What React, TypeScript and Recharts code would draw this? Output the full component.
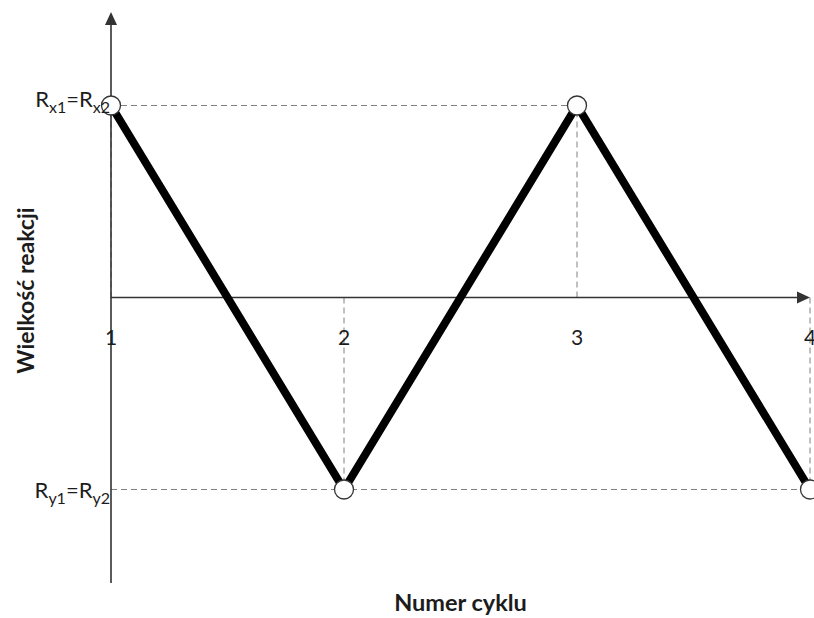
import { LineChart, Line, XAxis, YAxis, ReferenceLine, Label } from "recharts";

// cycle number on x, reaction size on y
const cycles = [1, 2, 3, 4];
const reaction = [1, -1, 1, -1];
const xTicks = [1, 2, 3, 4];
const yTicks = [-1, 1];
const yTickNames: Record<number, [string, string, string]> = {
  1: ["R", "x1", "x2"],
  "-1": ["R", "y1", "y2"],
};
const xTitle = "Numer cyklu";
const yTitle = "Wielkość reakcji";
const yLimit = 1.487;

const data = cycles.map((c, i) => ({ cycle: c, value: reaction[i] }));

// dashed guides: from the x axis to every point, and from the y axis to the last point on each level
const verticalGuides = data.map((d) => [
  { x: d.cycle, y: 0 },
  { x: d.cycle, y: d.value },
]);
const horizontalGuides = Array.from(new Set(reaction)).map((level) => {
  const last = Math.max(...data.filter((d) => d.value === level).map((d) => d.cycle));
  return [
    { x: cycles[0], y: level },
    { x: last, y: level },
  ];
});

const FONT = "Lato, 'Open Sans', sans-serif";
const TEXT = "#1c1c1c";
const AXIS = "#333";
const GUIDE = "#808080";

function XTick(props: any) {
  const { x, y, payload } = props;
  return (
    <text x={x} y={y - 246} textAnchor="middle" fontFamily={FONT} fontSize={21} fill={TEXT}>
      {payload.value}
    </text>
  );
}

function YTick(props: any) {
  const { x, y, payload } = props;
  const [base, sub1, sub2] = yTickNames[payload.value];
  const drop = payload.value > 0 ? 1 : 9;
  return (
    <text x={x - 1} y={y + drop} textAnchor="end" fontFamily={FONT} fontSize={22} fill={TEXT}>
      {base}
      <tspan fontSize={16} dy={6}>{sub1}</tspan>
      <tspan fontSize={22} dy={-6}>={base}</tspan>
      <tspan fontSize={16} dy={6}>{sub2}</tspan>
    </text>
  );
}

function HorizontalAxis(props: any) {
  const { x1, x2, y1 } = props;
  const right = Math.max(x1, x2);
  const left = Math.min(x1, x2);
  return (
    <g>
      <line x1={left} y1={y1} x2={right - 6} y2={y1} stroke={AXIS} strokeWidth={1.6} />
      <polygon points={`${right},${y1} ${right - 13},${y1 - 6} ${right - 13},${y1 + 6}`} fill={AXIS} />
    </g>
  );
}

function VerticalAxis(props: any) {
  const { x1, y1, y2 } = props;
  const top = Math.min(y1, y2);
  const bottom = Math.max(y1, y2);
  return (
    <g>
      <line x1={x1} y1={top + 6} x2={x1} y2={bottom} stroke={AXIS} strokeWidth={1.6} />
      <polygon points={`${x1},${top} ${x1 - 6},${top + 13} ${x1 + 6},${top + 13}`} fill={AXIS} />
    </g>
  );
}

function OpenDot(props: any) {
  const { cx, cy, index } = props;
  return <circle key={`dot-${index}`} cx={cx} cy={cy} r={9.5} fill="#fff" stroke="#333" strokeWidth={1.3} />;
}

function YTitle(props: any) {
  const { viewBox } = props;
  const cx = viewBox.x + 25;
  const cy = viewBox.y + viewBox.height / 2 - 7;
  return (
    <text
      x={cx}
      y={cy}
      transform={`rotate(-90 ${cx} ${cy})`}
      textAnchor="middle"
      dominantBaseline="central"
      fontFamily={FONT}
      fontWeight="bold"
      fontSize={23}
      fill={TEXT}
    >
      {yTitle}
    </text>
  );
}

export default function App() {
  return (
    <div style={{ width: 814, height: 618, background: "#fff" }}>
      <style>{`body{margin:0}`}</style>
      <LineChart width={814} height={618} data={data} margin={{ top: 12, right: 4, bottom: 0, left: 0 }}>
        <XAxis
          dataKey="cycle"
          type="number"
          domain={[1, 4]}
          ticks={xTicks}
          axisLine={false}
          tickLine={false}
          height={35}
          tick={<XTick />}
        >
          <Label value={xTitle} position="insideBottom" offset={7} fontFamily={FONT} fontWeight="bold" fontSize={23.5} fill={TEXT} />
        </XAxis>
        <YAxis
          type="number"
          domain={[-yLimit, yLimit]}
          ticks={yTicks}
          axisLine={false}
          tickLine={false}
          tickSize={0}
          tickMargin={0}
          width={111}
          tick={<YTick />}
        >
          <Label content={<YTitle />} />
        </YAxis>
        {horizontalGuides.map((seg, i) => (
          <ReferenceLine key={`h-${i}`} segment={seg} stroke={GUIDE} strokeDasharray="6 4" strokeWidth={1} />
        ))}
        {verticalGuides.map((seg, i) => (
          <ReferenceLine key={`v-${i}`} segment={seg} stroke={GUIDE} strokeDasharray="6 4" strokeWidth={1} />
        ))}
        <ReferenceLine y={0} shape={<HorizontalAxis />} />
        <ReferenceLine x={1} shape={<VerticalAxis />} />
        <Line
          dataKey="value"
          stroke="#000"
          strokeWidth={8}
          dot={<OpenDot />}
          activeDot={false}
          isAnimationActive={false}
        />
      </LineChart>
    </div>
  );
}
